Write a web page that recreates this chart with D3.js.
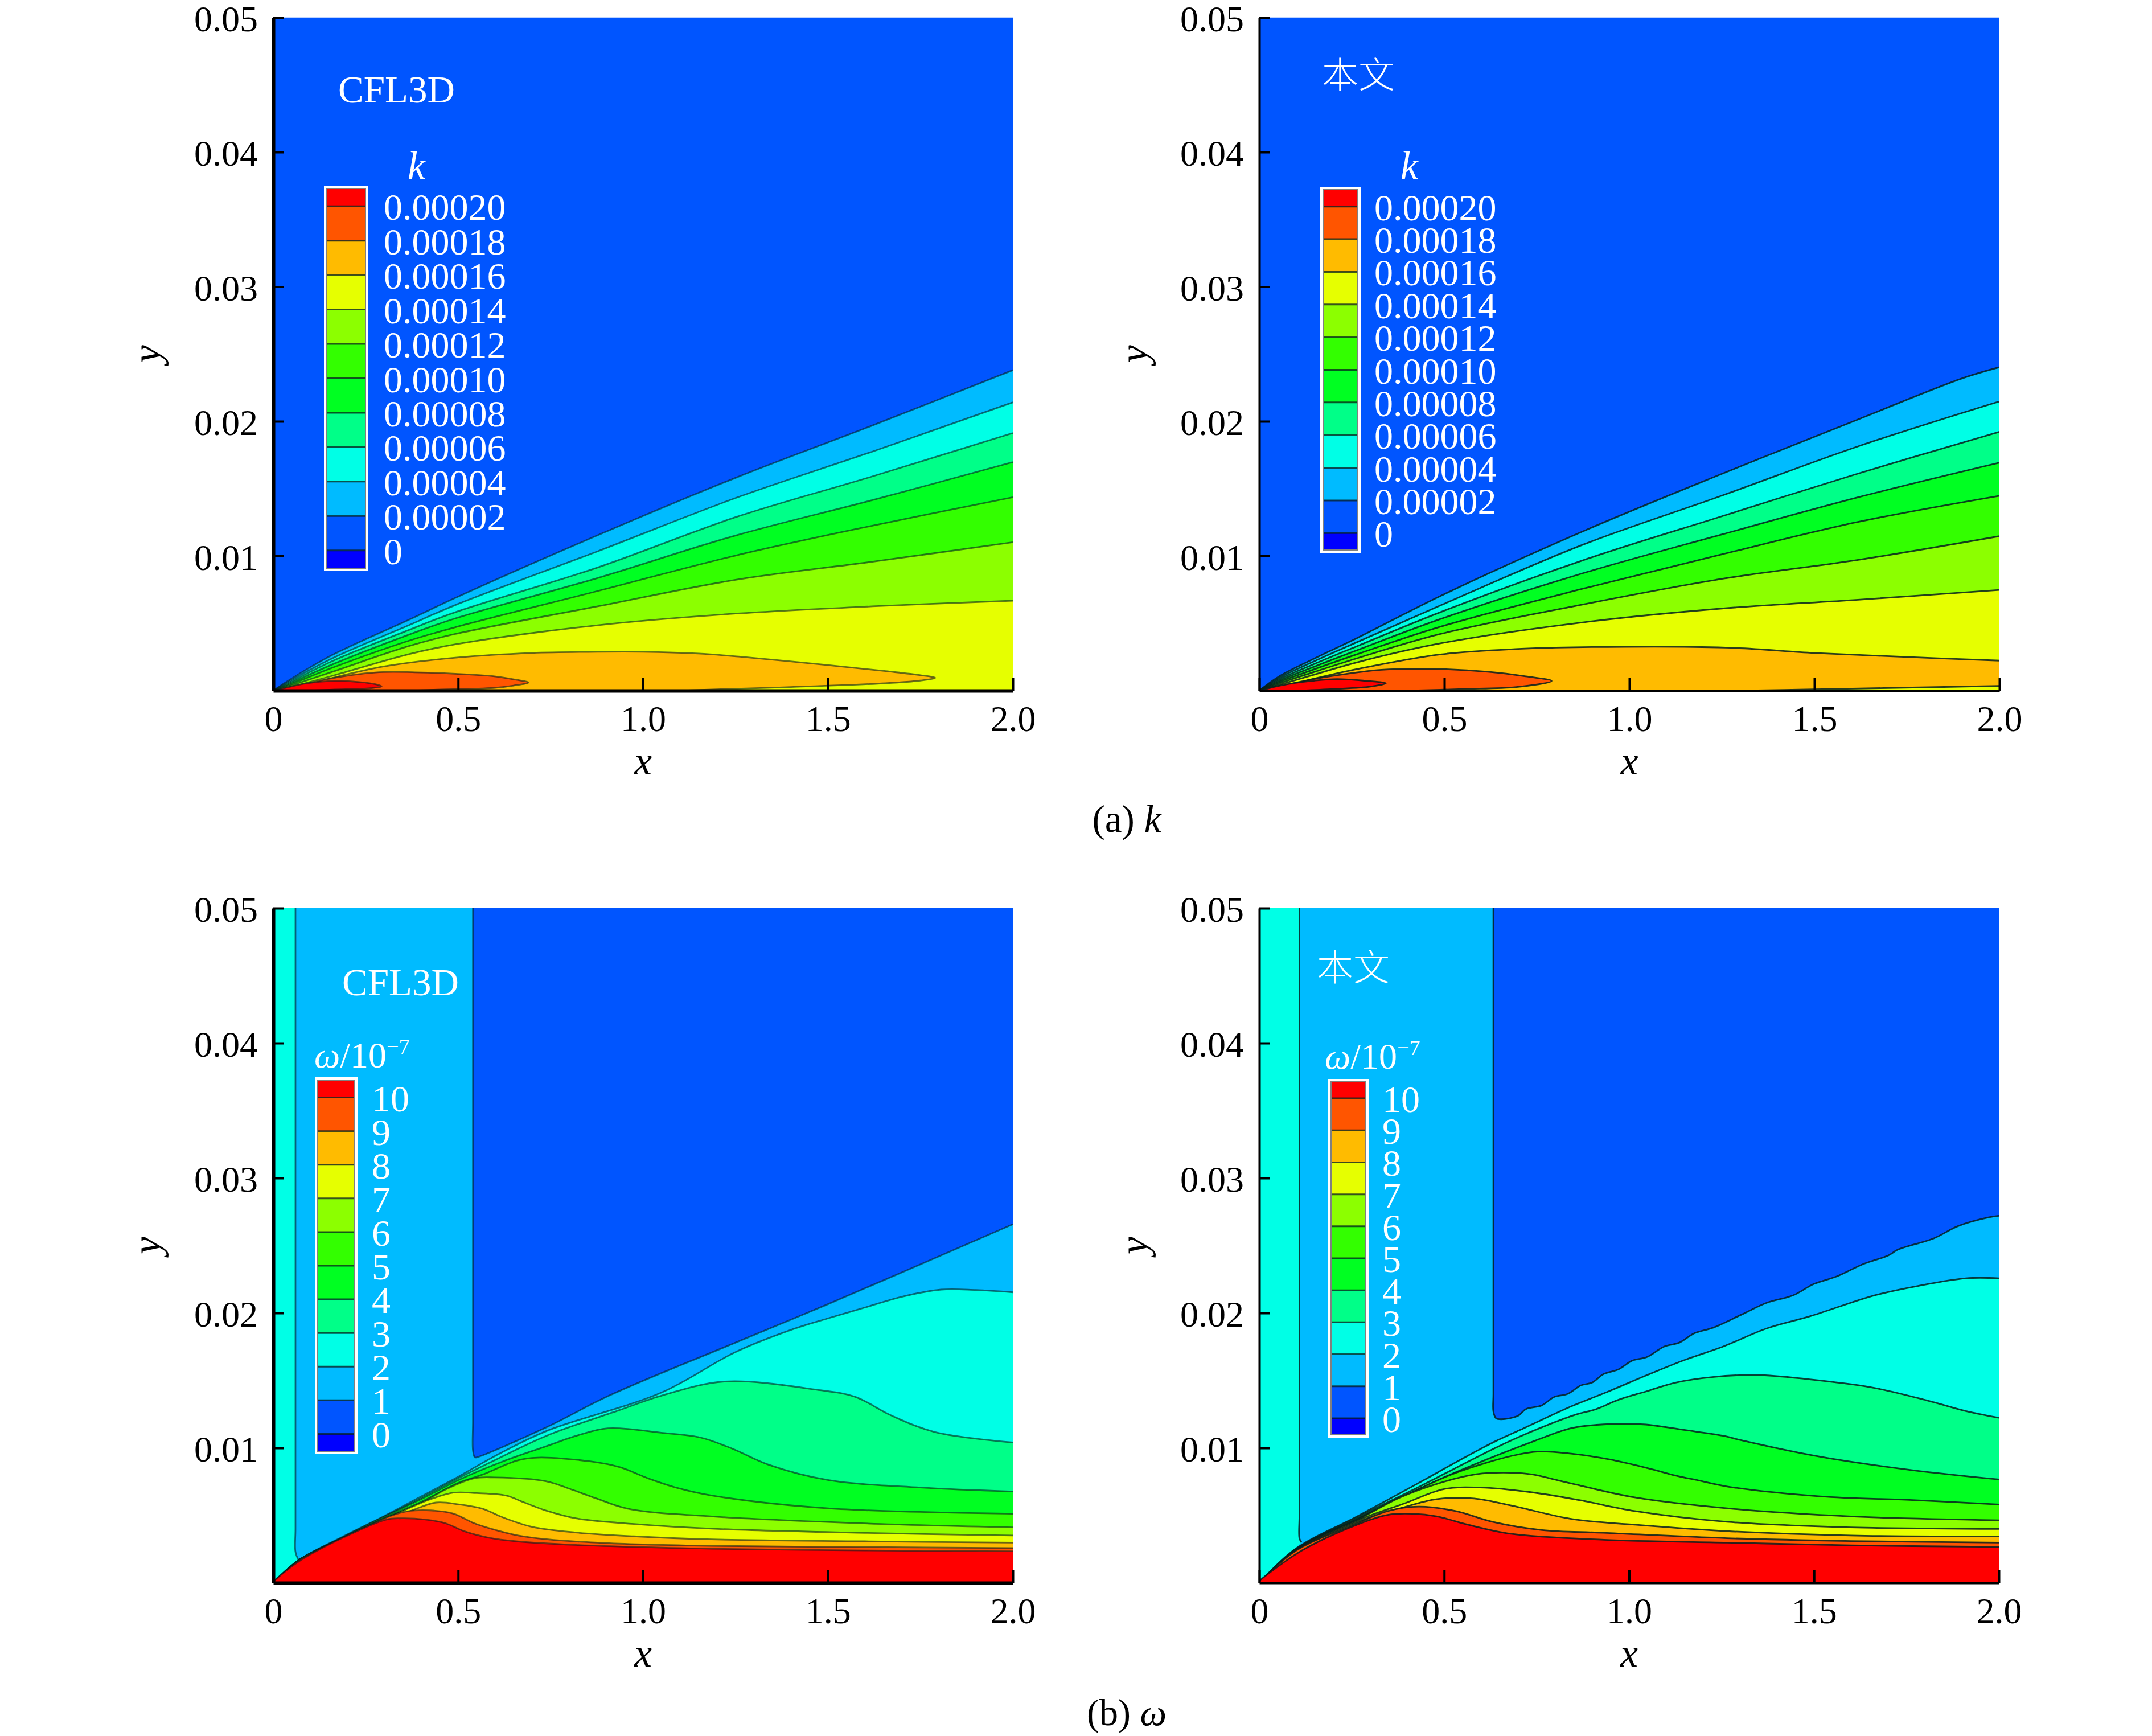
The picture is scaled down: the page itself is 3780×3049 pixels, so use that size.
<!DOCTYPE html>
<html>
<head>
<meta charset="utf-8">
<script src="https://cdn.jsdelivr.net/npm/d3@7"></script>
<style>
body { margin: 0; background: #fff; }
text { font-family: "Liberation Serif", "Noto Sans CJK SC", serif; }
</style>
</head>
<body>
<div class="chart"></div>
<script>
// band colours, lowest to highest
var bandColors = ['#0000ff', '#0055ff', '#00bbff', '#00ffe6', '#00ff88', '#00ff22', '#33ff00', '#8cff00', '#e6ff00', '#ffbb00', '#ff5500', '#ff0000'];

var xTicks = [0, 0.5, 1, 1.5, 2];
var xTickLabels = ['0', '0.5', '1.0', '1.5', '2.0'];
var yTicks = [0.01, 0.02, 0.03, 0.04, 0.05];
var kLevels = [0, 0.00002, 0.00004, 0.00006, 0.00008, 0.0001, 0.00012, 0.00014, 0.00016, 0.00018, 0.0002];
var kLabels = ['0', '0.00002', '0.00004', '0.00006', '0.00008', '0.00010', '0.00012', '0.00014', '0.00016', '0.00018', '0.00020'];
var wLevels = [0, 1, 2, 3, 4, 5, 6, 7, 8, 9, 10];

// k contours, CFL3D
var kCfl = [
  [[0,0],[.05,.0009],[.16,.00265],[.366,.00525],[.4927,.00689],[.8776,.01154],[1.25,.0158],[1.62,.01969],[2,.0238]],
  [[0,0],[.05,.0008],[.16,.0024],[.366,.00485],[.4927,.00636],[.8776,.01035],[1.25,.0143],[1.62,.01775],[2,.02141]],
  [[0,0],[.05,.0007],[.16,.0022],[.366,.0045],[.4927,.00583],[.8776,.00915],[1.25,.01288],[1.62,.01591],[2,.01913]],
  [[0,0],[.05,.0006],[.16,.00195],[.366,.00415],[.4927,.00537],[.8776,.00837],[1.25,.01152],[1.62,.01415],[2,.01697]],
  [[0,0],[.05,.0005],[.16,.0017],[.366,.0037],[.4927,.00471],[.8776,.0074],[1.25,.01003],[1.62,.01225],[2,.01436]],
  [[0,0],[.05,.0004],[.16,.0014],[.366,.0033],[.4927,.00421],[.8776,.00626],[1.25,.00823],[1.62,.00957],[2,.01102]],
  [[0,0],[.05,.0003],[.16,.0011],[.366,.0027],[.4927,.00344],[.8776,.00486],[1.25,.00572],[1.62,.00626],[2,.00668]],
  [[0,0],[.05,.00015],[.16,.00095],[.3,.0018],[.4927,.00245],[.7,.0028],[.8776,.00288],[1,.00288],[1.15,.00275],[1.2625,.00252],[1.5,.0019],[1.656,.00145],[1.75,.00115],[1.79,.00095],[1.75,.00075],[1.656,.00055],[1.4,.00027],[1.2,.0001],[1.1,0]],
  [[.01,0],[.056,.00025],[.139,.00082],[.276,.00135],[.4,.00135],[.4927,.00125],[.595,.00107],[.65,.00084],[.69,.0006],[.65,.00038],[.595,.0002],[.434,.00007],[.37,0]],
  [[.005,0],[.015,.00008],[.09,.00054],[.16,.00072],[.214,.00068],[.27,.00051],[.293,.00032],[.263,.00018],[.16,.00008],[.09,0]]
];

// k contours, present work
var kOurs = [
  [[0,0],[.05,.001],[.15,.0024],[.264,.0039],[.4896,.00703],[.8745,.01183],[1.25,.0161],[1.618,.02014],[1.9,.0232],[2,.02402]],
  [[0,0],[.05,.0009],[.15,.0022],[.264,.0036],[.4896,.00633],[.8745,.01084],[1.25,.01448],[1.618,.01814],[2,.02148]],
  [[0,0],[.05,.0008],[.15,.002],[.264,.0033],[.4896,.00583],[.8745,.00968],[1.25,.01295],[1.618,.01612],[2,.01922]],
  [[0,0],[.05,.0007],[.15,.0018],[.264,.003],[.4896,.00532],[.8745,.00872],[1.25,.0116],[1.618,.01436],[2,.01693]],
  [[0,0],[.05,.0006],[.15,.0016],[.264,.0027],[.4896,.00475],[.8745,.00757],[1.25,.01012],[1.618,.01253],[2,.01447]],
  [[0,0],[.05,.0005],[.15,.0014],[.264,.0024],[.4896,.00421],[.8745,.0064],[1.25,.0083],[1.618,.00971],[2,.01147]],
  [[0,0],[.05,.0004],[.15,.0012],[.264,.0021],[.4896,.00351],[.8745,.00507],[1.25,.0061],[1.618,.00675],[2,.00748]],
  [[0,0],[.05,.0002],[.15,.0009],[.264,.0016],[.4896,.00269],[.7,.0031],[.8745,.00323],[1.2595,.0032],[1.5,.0028],[1.75,.0025],[2,.00223]],
  [[.005,0],[.02,.00005],[.1,.0006],[.2,.0011],[.33,.00155],[.4896,.0016],[.618,.0014],[.72,.00106],[.79,.00072],[.695,.00027],[.55,.00012],[.4,0]],
  [[.005,0],[.015,.0001],[.08,.0005],[.15,.00075],[.21,.00086],[.28,.00075],[.342,.00055],[.3,.0003],[.2,.00012],[.1,0]]
];
var kOursFloor = [[1.3,0],[1.5,.0001],[1.7,.0002],[2,.00035]];

// omega contours, CFL3D
var wCflStrip = [[.06,.05],[.06,.04],[.06,.03],[.06,.02],[.06,.01],[.06,.004],[.06,.0023],[.068,.0017]];
var wCflTop = [[.54,.05],[.54,.04],[.54,.03],[.54,.02],[.54,.012],[.54,.0098],[.545,.0093],[.55,.0093],[.739,.01153],[.912,.01392],[1.25,.0178],[1.5,.02065],[1.75,.0236],[2,.02657]];
var wCfl = [
  [[0,0],[.07,.0017],[.19,.00345],[.3,.00495],[.4,.0064],[.503,.0079],[.6,.0094],[.739,.01125],[1.05,.0141],[1.25,.0171],[1.406,.0188],[1.5,.0196],[1.6,.0204],[1.7,.0212],[1.806,.02173],[1.9,.0217],[2,.02153]],
  [[0,0],[.07,.0017],[.19,.0034],[.3,.0049],[.4,.0063],[.5,.00775],[.6,.0091],[.739,.0109],[.936,.0128],[1.053,.0139],[1.222,.01492],[1.47,.01431],[1.573,.01379],[1.673,.01238],[1.79,.01117],[2,.0104]],
  [[0,0],[.07,.0017],[.19,.0034],[.3,.0049],[.4,.0062],[.503,.00765],[.621,.009],[.739,.01013],[.82,.0109],[.905,.01145],[1.053,.01111],[1.155,.01077],[1.24,.00996],[1.34,.00875],[1.5,.00762],[1.75,.00706],[2,.00677]],
  [[0,0],[.07,.0017],[.19,.00335],[.3,.0048],[.4,.006],[.5,.0074],[.566,.00802],[.66,.00907],[.715,.00928],[.857,.009],[.936,.00858],[1.014,.00774],[1.093,.00703],[1.186,.00647],[1.5,.00552],[2,.00512]],
  [[0,0],[.07,.0017],[.19,.00335],[.3,.00475],[.4,.0059],[.464,.00689],[.542,.00774],[.598,.00781],[.739,.00752],[.802,.00696],[.873,.00626],[.959,.00549],[1.186,.00492],[1.6,.0044],[2,.00411]],
  [[0,0],[.07,.0017],[.19,.0033],[.3,.0047],[.425,.00619],[.487,.00668],[.55,.00665],[.629,.00647],[.676,.00598],[.739,.00534],[.818,.00478],[.975,.00436],[1.186,.00401],[1.6,.0037],[2,.00351]],
  [[0,0],[.07,.00165],[.19,.0033],[.3,.00465],[.377,.00539],[.44,.00595],[.503,.00581],[.566,.00549],[.621,.00485],[.7,.00415],[.818,.00373],[.975,.00345],[1.186,.00322],[1.6,.00308],[2,.00298]],
  [[0,0],[.07,.00165],[.19,.00325],[.307,.00485],[.362,.0053],[.425,.00537],[.487,.00513],[.542,.00443],[.598,.00394],[.66,.00352],[.739,.00323],[.896,.00295],[1.186,.00274],[1.6,.00265],[2,.00258]],
  [[0,.0001],[.07,.0016],[.189,.00335],[.307,.0047],[.346,.00478],[.409,.0047],[.464,.00443],[.519,.0038],[.582,.00335],[.66,.00307],[.818,.00281],[1.186,.00253],[1.6,.0024],[2,.00234]]
];

// omega contours, present work
var wOursStrip = [[.1085,.05],[.1085,.04],[.1085,.03],[.1085,.02],[.1085,.01],[.1085,.005],[.1085,.0033],[.114,.003]];
var wOursTop = [[.633,.05],[.633,.04],[.633,.03],[.633,.02],[.633,.014],[.633,.0127],[.64,.0122],[.654,.01212],[.7,.01238],[.7206,.01287],[.764,.01315],[.7976,.01378],[.8335,.014],[.8695,.01463],[.9,.01484],[.931,.01547],[.9717,.01582],[1.008,.01646],[1.0489,.01674],[1.095,.01751],[1.136,.0178],[1.177,.0185],[1.2287,.01892],[1.3056,.0199],[1.372,.02075],[1.444,.02131],[1.5,.02215],[1.562,.02271],[1.634,.02363],[1.701,.02426],[1.726,.02468],[1.824,.02553],[1.89,.02644],[1.972,.02708],[2,.0272]];
var wOurs = [
  [[0,0],[.097,.0025],[.264,.00492],[.431,.0074],[.5358,.009],[.6377,.01048],[.7154,.01146],[.8437,.01308],[.9464,.01421],[1.0489,.0154],[1.1516,.01653],[1.2544,.01751],[1.372,.01885],[1.49,.01976],[1.665,.02131],[1.783,.02201],[1.911,.02257],[2,.02257]],
  [[0,0],[.097,.00245],[.264,.00485],[.431,.0071],[.5358,.00858],[.6377,.00999],[.7154,.01097],[.854,.01245],[.9105,.01287],[.9717,.01357],[1.0489,.01421],[1.1258,.01484],[1.2287,.01526],[1.3468,.0154],[1.475,.01512],[1.6546,.01449],[1.8086,.0135],[1.911,.01273],[2,.01223]],
  [[0,0],[.097,.00245],[.264,.00475],[.431,.00694],[.5358,.00825],[.7408,.01048],[.8437,.01146],[.931,.01174],[1.0387,.01174],[1.1516,.01132],[1.2544,.0109],[1.3056,.01055],[1.516,.00935],[1.766,.00835],[2,.00766]],
  [[0,0],[.097,.00245],[.264,.0047],[.431,.00694],[.531,.00815],[.6846,.00942],[.7565,.00973],[.8437,.00957],[.9464,.00915],[1.0489,.00851],[1.1258,.00795],[1.187,.00759],[1.265,.00714],[1.516,.00641],[1.766,.00613],[2,.00581]],
  [[0,0],[.097,.0024],[.264,.00465],[.381,.00633],[.481,.00734],[.5872,.00805],[.68,.00816],[.741,.00802],[.808,.00759],[.848,.00734],[1.015,.00633],[1.265,.00552],[1.6,.00492],[2,.00464]],
  [[0,0],[.097,.0024],[.264,.0046],[.397,.00593],[.498,.00694],[.598,.00706],[.731,.00673],[.865,.00613],[1.015,.00532],[1.265,.00452],[1.6,.00411],[2,.00399]],
  [[0,0],[.097,.00235],[.264,.0045],[.381,.00552],[.481,.00621],[.581,.00625],[.681,.00573],[.848,.00472],[1.015,.00431],[1.265,.00383],[1.6,.00351],[2,.00343]],
  [[0,0],[.097,.00235],[.264,.0044],[.347,.00532],[.431,.00565],[.531,.00532],[.631,.00452],[.765,.00391],[.932,.00371],[1.265,.00331],[1.6,.0031],[2,.00298]],
  [[0,.00016],[.114,.00238],[.264,.00431],[.347,.00504],[.414,.00512],[.481,.00492],[.564,.00431],[.681,.00363],[.932,.00319],[1.265,.00298],[1.6,.00278],[2,.00266]]
];

var svg = d3.select('.chart').append('svg')
  .attr('width', 3780)
  .attr('height', 3049)
  .style('display', 'block');

var fontSize = 64;
var clipCount = 0;

function drawPanel(p) {
  var x = d3.scaleLinear().domain([0, 2]).range([p.left, p.right]);
  var y = d3.scaleLinear().domain([0, 0.05]).range([p.bottom, p.top]);

  var line = d3.line()
    .x(function(d) { return x(d[0]); })
    .y(function(d) { return y(d[1]); })
    .curve(d3.curveCatmullRom.alpha(0.5));

  var clipId = 'clip' + (clipCount++);
  svg.append('clipPath').attr('id', clipId).append('rect')
    .attr('x', p.left).attr('y', p.top)
    .attr('width', p.right - p.left).attr('height', p.bottom - p.top);

  var g = svg.append('g').attr('clip-path', 'url(#' + clipId + ')');
  g.append('rect')
    .attr('x', p.left).attr('y', p.top)
    .attr('width', p.right - p.left).attr('height', p.bottom - p.top)
    .attr('fill', bandColors[p.baseBand]);

  p.regions.forEach(function(r) {
    var last = r.pts[r.pts.length - 1];
    var d = line(r.pts);
    // contours ending on an edge close round the corners
    if (r.top) {
      d += 'L' + x(2) + ',' + y(0.05);
    } else if (r.strip) {
      d += 'L' + x(0) + ',' + y(0) + 'L' + x(0) + ',' + y(0.05);
    } else if (last[0] == 2) {
      d += 'L' + x(2) + ',' + y(0) + 'L' + x(0) + ',' + y(0);
    }
    g.append('path').attr('d', d + 'Z').attr('fill', bandColors[r.band]);
    g.append('path').attr('d', line(r.pts))
      .attr('fill', 'none')
      .attr('stroke', '#06201f')
      .attr('stroke-opacity', p.lineOpacity)
      .attr('stroke-width', 2.8);
  });

  // axes
  var xAxis = d3.axisBottom(x)
    .tickValues(xTicks)
    .tickFormat(function(d, i) { return xTickLabels[i]; })
    .tickSizeInner(-22).tickSizeOuter(0).tickPadding(26);
  var yAxis = d3.axisLeft(y)
    .tickValues(yTicks)
    .tickFormat(d3.format('.2f'))
    .tickSizeInner(-18).tickSizeOuter(0).tickPadding(27);

  var ax = svg.append('g').attr('transform', 'translate(0,' + p.bottom + ')').call(xAxis);
  var ay = svg.append('g').attr('transform', 'translate(' + p.left + ',0)').call(yAxis);
  [ax, ay].forEach(function(a) {
    a.selectAll('text').attr('font-size', fontSize).attr('fill', '#000').style('font-family', '"Liberation Serif"');
    a.selectAll('line').attr('stroke', '#000').attr('stroke-width', 4);
    a.select('.domain').attr('stroke', '#000').attr('stroke-width', p.axisWidth);
  });
  ay.selectAll('text').attr('dy', '0.37em');

  svg.append('text').attr('x', (p.left + p.right) / 2).attr('y', p.bottom + 147)
    .attr('text-anchor', 'middle').attr('font-size', 70).attr('font-style', 'italic').text('x');
  svg.append('text')
    .attr('transform', 'translate(' + p.yTitleX + ',' + ((p.top + p.bottom) / 2) + ') rotate(-90)')
    .attr('text-anchor', 'middle').attr('font-size', 70).attr('font-style', 'italic').text('y');

  // legend
  var lg = p.legend;
  var ly = d3.scaleLinear().domain(lg.domain).range([lg.bottom, lg.top]);
  var levels = lg.levels;
  svg.append('rect')
    .attr('x', lg.left - 4).attr('y', lg.top - 4)
    .attr('width', lg.right - lg.left + 8).attr('height', lg.bottom - lg.top + 8)
    .attr('fill', '#808080').attr('stroke', '#fff').attr('stroke-width', 4);
  var edges = [lg.domain[0]].concat(levels, [lg.domain[1]]);
  d3.range(edges.length - 1).forEach(function(i) {
    svg.append('rect')
      .attr('x', lg.left).attr('width', lg.right - lg.left)
      .attr('y', ly(edges[i + 1])).attr('height', ly(edges[i]) - ly(edges[i + 1]))
      .attr('fill', bandColors[i]);
  });
  levels.forEach(function(v, i) {
    svg.append('line')
      .attr('x1', lg.left).attr('x2', lg.right)
      .attr('y1', ly(v)).attr('y2', ly(v))
      .attr('stroke', '#06201f').attr('stroke-opacity', 0.75).attr('stroke-width', 3);
    svg.append('text')
      .attr('x', lg.labelX).attr('y', ly(v) + lg.labelDy)
      .attr('font-size', 66).attr('fill', '#fff')
      .text(lg.labels[i]);
  });

  // title of the legend
  var t = svg.append('text').attr('x', lg.titleX).attr('y', lg.titleY)
    .attr('font-size', fontSize).attr('fill', '#fff');
  if (lg.omega) {
    t.append('tspan').attr('font-style', 'italic').text('ω');
    t.append('tspan').text('/10');
    t.append('tspan').attr('font-size', 38).attr('dy', -24).text('−7');
  } else {
    t.attr('font-style', 'italic').attr('font-size', 70).text('k');
  }

  // solver name
  svg.append('text').attr('x', p.nameX).attr('y', p.nameY)
    .attr('font-size', p.name == '本文' ? 64 : 67).attr('fill', '#fff')
    .attr('font-weight', p.name == '本文' ? 300 : 400)
    .text(p.name);
}

function regions(contours) {
  return contours.map(function(c, i) { return { pts: c, band: i + 2 }; });
}
function omegaRegions(strip, top, contours) {
  return [{ pts: strip, band: 3, strip: true }, { pts: top, band: 1, top: true }].concat(
    contours.map(function(c, i) { return { pts: c, band: i + 3 }; }));
}

var kDomain = [-0.00001, 0.00021];
var wDomain = [-0.5, 10.5];
var kRow = { top: 30.5, bottom: 1213 };
var wRow = { top: 1595, bottom: 2780 };

drawPanel({ left: 480, right: 1779, top: kRow.top, bottom: kRow.bottom, axisWidth: 6, yTitleX: 281, lineOpacity: 0.6,
  baseBand: 1, regions: regions(kCfl), name: 'CFL3D', nameX: 594, nameY: 180,
  legend: { left: 575, right: 641, top: 332, bottom: 997, domain: kDomain, levels: kLevels, labels: kLabels,
    labelX: 674, labelDy: 24, titleX: 716, titleY: 314 } });

drawPanel({ left: 2212, right: 3512, top: kRow.top, bottom: kRow.bottom, axisWidth: 4, yTitleX: 2015, lineOpacity: 0.85,
  baseBand: 1, regions: regions(kOurs).concat([{ pts: kOursFloor, band: 8 }]), name: '本文', nameX: 2322, nameY: 154,
  legend: { left: 2325, right: 2384, top: 334, bottom: 965, domain: kDomain, levels: kLevels, labels: kLabels,
    labelX: 2414, labelDy: 24, titleX: 2460, titleY: 314 } });

drawPanel({ left: 480, right: 1779, top: wRow.top, bottom: wRow.bottom, axisWidth: 6, yTitleX: 281, lineOpacity: 0.6,
  baseBand: 2, regions: omegaRegions(wCflStrip, wCflTop, wCfl), name: 'CFL3D', nameX: 601, nameY: 1748,
  legend: { left: 559, right: 622, top: 1898, bottom: 2548, domain: wDomain, levels: wLevels, labels: wLevels,
    labelX: 653, labelDy: 24, titleX: 552, titleY: 1875, omega: true } });

drawPanel({ left: 2212, right: 3511, top: wRow.top, bottom: wRow.bottom, axisWidth: 4, yTitleX: 2015, lineOpacity: 0.85,
  baseBand: 2, regions: omegaRegions(wOursStrip, wOursTop, wOurs), name: '本文', nameX: 2313, nameY: 1722,
  legend: { left: 2339, right: 2398, top: 1901, bottom: 2519, domain: wDomain, levels: wLevels, labels: wLevels,
    labelX: 2428, labelDy: 24, titleX: 2327, titleY: 1877, omega: true } });

// captions
var caption = svg.append('text').attr('x', 1979).attr('y', 1461)
  .attr('text-anchor', 'middle').attr('font-size', 67);
caption.append('tspan').text('(a) ');
caption.append('tspan').attr('font-style', 'italic').text('k');

var caption2 = svg.append('text').attr('x', 1979).attr('y', 3030)
  .attr('text-anchor', 'middle').attr('font-size', 66);
caption2.append('tspan').text('(b) ');
caption2.append('tspan').attr('font-style', 'italic').text('ω');
</script>
</body>
</html>
